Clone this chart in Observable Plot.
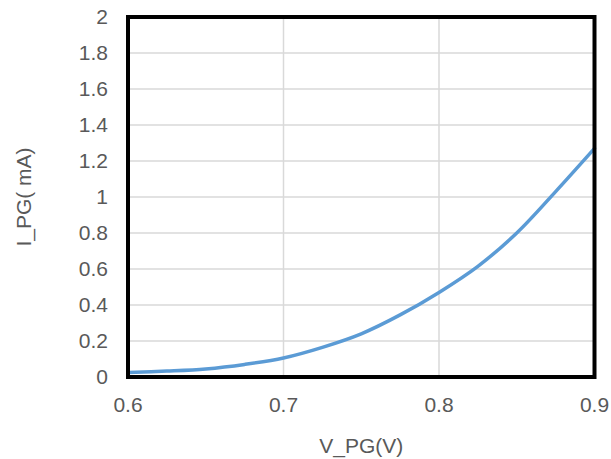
<!DOCTYPE html>
<html>
<head>
<meta charset="utf-8">
<script src="https://cdn.jsdelivr.net/npm/d3@7"></script>
<script src="https://cdn.jsdelivr.net/npm/@observablehq/plot@0.6"></script>
<style>
  html, body { margin: 0; padding: 0; background: #fff; }
  #chart { width: 611px; height: 459px; }
  #chart svg text { font-size: 21px !important; font-family: "Liberation Sans", Arial, sans-serif !important; }
</style>
</head>
<body>
<div id="chart"></div>
<script>
const vpg = [0.600, 0.625, 0.650, 0.675, 0.700, 0.725, 0.750, 0.775, 0.800, 0.825, 0.850, 0.875, 0.900];
const ipg = [0.025, 0.033, 0.045, 0.070, 0.106, 0.165, 0.240, 0.345, 0.470, 0.615, 0.800, 1.030, 1.270];
const xTicks = [0.6, 0.7, 0.8, 0.9];
const yTicks = [0, 0.2, 0.4, 0.6, 0.8, 1, 1.2, 1.4, 1.6, 1.8, 2];
const xTickLabels = ["0.6", "0.7", "0.8", "0.9"];
const yTickLabels = ["0", "0.2", "0.4", "0.6", "0.8", "1", "1.2", "1.4", "1.6", "1.8", "2"];
const xLabel = "V_PG(V)";
const yLabel = "I_PG( mA)";

const data = vpg.map((v, i) => ({v, i: ipg[i]}));

const chart = Plot.plot({
  width: 611,
  height: 459,
  marginLeft: 127.5,
  marginRight: 17,
  marginTop: 16.5,
  marginBottom: 82.5,
  style: {fontFamily: "Liberation Sans, Arial, sans-serif", fontSize: "21px", color: "#595959", background: "#fff"},
  x: {domain: [0.6, 0.9]},
  y: {domain: [0, 2]},
  marks: [
    Plot.gridX([0.7, 0.8], {stroke: "#d9d9d9", strokeOpacity: 1, strokeWidth: 1.5}),
    Plot.gridY(yTicks.slice(1), {stroke: "#d9d9d9", strokeOpacity: 1, strokeWidth: 1.5}),
    Plot.axisX(xTicks, {tickSize: 0, tickPadding: 20, fill: "#595959", fontSize: 21,
      tickFormat: (d, i) => xTickLabels[i],
      label: xLabel, labelAnchor: "center", labelArrow: "none", labelOffset: 76}),
    Plot.axisY(yTicks, {tickSize: 0, tickPadding: 20, fill: "#595959", fontSize: 21,
      tickFormat: (d, i) => yTickLabels[i],
      label: yLabel, labelAnchor: "center", labelArrow: "none", labelOffset: 112}),
    Plot.line(data, {x: "v", y: "i", stroke: "#5b9bd5", strokeWidth: 3.5, curve: "catmull-rom"}),
    Plot.frame({stroke: "#000", strokeWidth: 4})
  ]
});
document.getElementById("chart").appendChild(chart);
</script>
</body>
</html>
